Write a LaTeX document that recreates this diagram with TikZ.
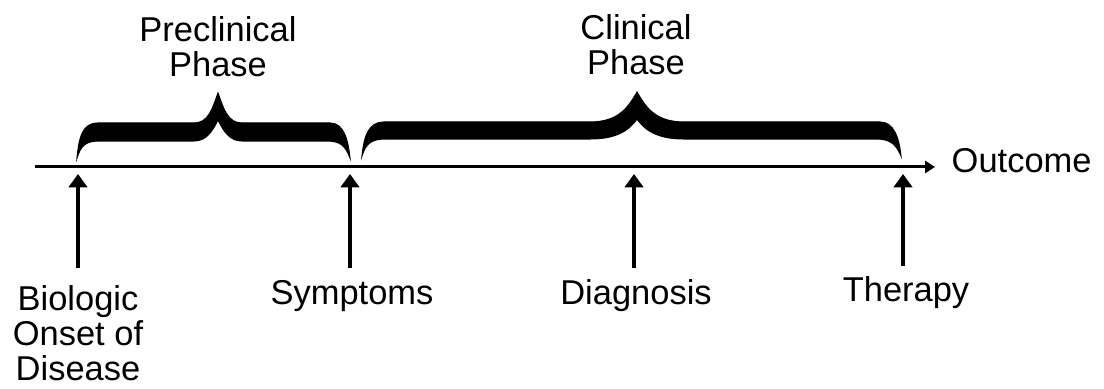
\documentclass[tikz,border=0pt]{standalone}
\usepackage{fontspec}
\setmainfont{Liberation Sans}
\usetikzlibrary{arrows.meta}

\begin{document}
\begin{tikzpicture}[
    x=0.01cm, y=-0.01cm,
    font=\fontsize{9.8}{9.9}\selectfont,
    phase/.style={align=center, inner sep=0pt},
    event/.style={align=center, inner sep=0pt},
    timeline/.style={line width=0.85pt, -{Triangle[length=2.8pt, width=3.4pt]}},
    uparrow/.style={line width=1.3pt, -{Triangle[length=3.8pt, width=5.2pt]}},
    brace/.style={fill=black, draw=black, line width=0.3pt}
]
\useasboundingbox (0,0) rectangle (1104,389);

% time axis
\coordinate (axisstart) at (35,167);
\coordinate (axisend) at (935,167);
\draw[timeline] (axisstart) -- (axisend);
\node[anchor=base west, inner sep=0pt] (outcome) at (951,173) {Outcome};

% phases above the axis
\node[phase] (preclin) at (218,47) {Preclinical\\Phase};
\node[phase] (clin) at (636,45) {Clinical\\Phase};

% preclinical brace
\fill[brace] (77,158) .. controls (79,138) and (82,123) .. (98,123)
  -- (194,123) .. controls (208,123) and (212,110) .. (218,93)
  .. controls (224,110) and (228,123) .. (242,123)
  -- (330,123) .. controls (344,123) and (348,140) .. (350,158)
  .. controls (345,145) and (340,141) .. (326,141)
  -- (242,141) .. controls (230,141) and (224,132) .. (218,120)
  .. controls (212,132) and (206,141) .. (194,141)
  -- (100,141) .. controls (86,141) and (81,145) .. (77,158) -- cycle;

% clinical brace
\fill[brace] (362,156) .. controls (364,137) and (368,122) .. (384,122)
  -- (590,122) .. controls (618,122) and (628,108) .. (637,92)
  .. controls (646,108) and (656,122) .. (684,122)
  -- (880,122) .. controls (894,122) and (899,138) .. (901,156)
  .. controls (896,144) and (890,139) .. (876,139)
  -- (684,139) .. controls (660,139) and (646,132) .. (637,119)
  .. controls (628,132) and (614,139) .. (590,139)
  -- (386,139) .. controls (372,139) and (366,143) .. (362,156) -- cycle;

% events below the axis
\node[event] (onset) at (78,333) {Biologic\\Onset of\\Disease};
\node[event, anchor=base] (symptoms) at (352,305) {Symptoms};
\node[event, anchor=base] (diagnosis) at (636,305) {Diagnosis};
\node[event, anchor=base] (therapy) at (906,302) {Therapy};

\coordinate (onsettail) at (78,268);
\coordinate (onsethead) at (78,174);
\coordinate (symptail) at (350,268);
\coordinate (symphead) at (350,174);
\coordinate (diagtail) at (634,268);
\coordinate (diaghead) at (634,174);
\coordinate (thertail) at (903,266);
\coordinate (therhead) at (903,174);

\draw[uparrow] (onsettail) -- (onsethead);
\draw[uparrow] (symptail) -- (symphead);
\draw[uparrow] (diagtail) -- (diaghead);
\draw[uparrow] (thertail) -- (therhead);
\end{tikzpicture}
\end{document}
